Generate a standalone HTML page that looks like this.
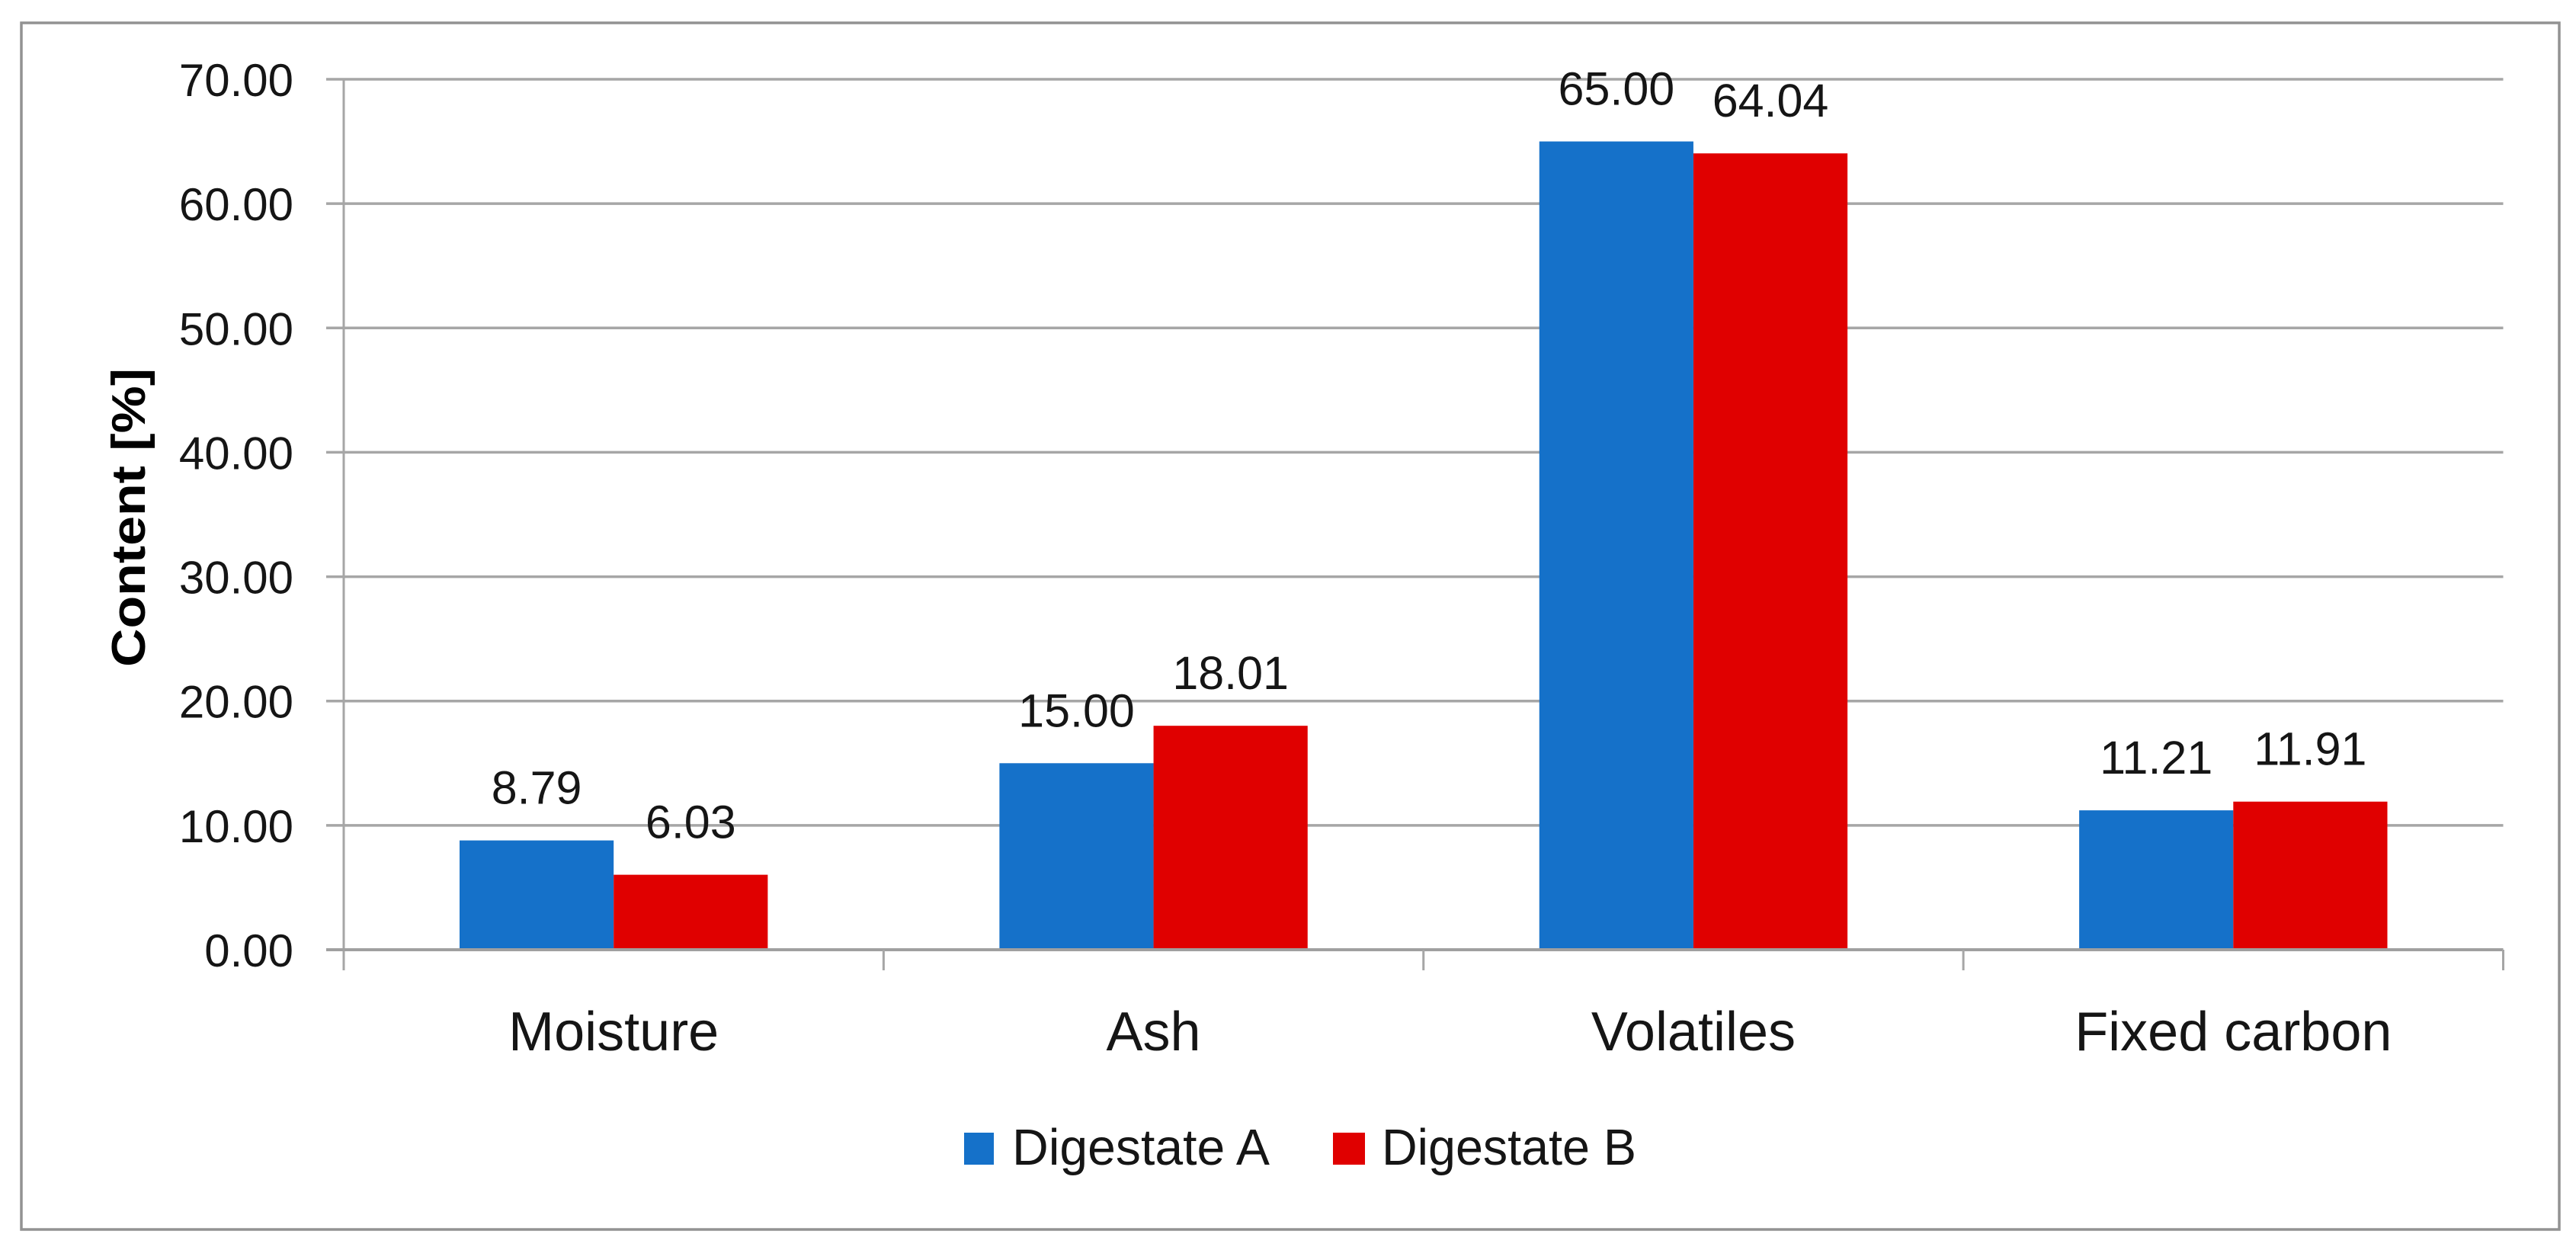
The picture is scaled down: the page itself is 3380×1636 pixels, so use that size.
<!DOCTYPE html>
<html lang="en">
<head>
<meta charset="utf-8">
<title>Digestate content chart</title>
<style>
html,body{margin:0;padding:0;background:#fff;width:3380px;height:1636px;overflow:hidden}
svg{display:block}
text{font-family:"Liberation Sans",sans-serif;fill:#151515}
</style>
</head>
<body>
<svg id="chart" xmlns="http://www.w3.org/2000/svg" width="3380" height="1636" viewBox="0 0 3380 1636">
  <rect x="28" y="30" width="3330" height="1583" fill="#ffffff" stroke="#929292" stroke-width="3.5"/>
  <g id="grid"></g>
  <g id="bars"></g>
  <g id="axes"></g>
  <g id="labels"></g>
  <text transform="translate(190,679) rotate(-90)" text-anchor="middle" font-size="62" font-weight="700" textLength="392" lengthAdjust="spacingAndGlyphs" style="fill:#000">Content [%]</text>
  <g>
    <rect x="1265" y="1486" width="39" height="42" fill="#1571c9"/>
    <text x="1328" y="1528" font-size="67" textLength="338" lengthAdjust="spacingAndGlyphs">Digestate A</text>
    <rect x="1749" y="1486" width="42" height="42" fill="#e00000"/>
    <text x="1813" y="1528" font-size="67" textLength="334" lengthAdjust="spacingAndGlyphs">Digestate B</text>
  </g>
</svg>
<script>
const categories = ["Moisture", "Ash", "Volatiles", "Fixed carbon"];
const digestateA = [8.79, 15.00, 65.00, 11.21];
const digestateB = [6.03, 18.01, 64.04, 11.91];
const yTicks = [0, 10, 20, 30, 40, 50, 60, 70];

const NS = "http://www.w3.org/2000/svg";
const plotLeft = 451, plotRight = 3284.5, plotBottom = 1246, plotTop = 104, yMax = 70;
const catW = (plotRight - plotLeft) / categories.length;
const gapW = 152;
const barW = (catW - 2 * gapW) / 2;
const yScale = function (v) { return plotBottom - (v / yMax) * (plotBottom - plotTop); };
const xCat = function (i) { return plotLeft + i * catW; };

function make(tag, parent, attrs, content) {
  const el = document.createElementNS(NS, tag);
  for (const k in attrs) el.setAttribute(k, attrs[k]);
  if (content !== undefined) el.textContent = content;
  parent.appendChild(el);
  return el;
}

const grid = document.getElementById("grid");
const bars = document.getElementById("bars");
const axes = document.getElementById("axes");
const labels = document.getElementById("labels");

yTicks.forEach(function (t) {
  const y = yScale(t);
  if (t !== 0) {
    const line = make("line", grid, { x1: 428, x2: plotRight, y1: y, y2: y, stroke: "#a6a6a6", "stroke-width": 3.5 });
    
    
  }
  const tick = make("text", axes, { x: 385, y: y + 22, "text-anchor": "end", "font-size": 60 }, t.toFixed(2));
  
  
});

categories.forEach(function (c, i) {
  const x0 = xCat(i) + gapW;
  const a = make("rect", bars, { x: x0, y: yScale(digestateA[i]), width: barW, height: plotBottom - yScale(digestateA[i]), fill: "#1571c9" });
  
  
  const b = make("rect", bars, { x: x0 + barW, y: yScale(digestateB[i]), width: barW, height: plotBottom - yScale(digestateB[i]), fill: "#e00000" });
  
  

  const la = make("text", labels, { x: x0 + barW / 2, y: yScale(digestateA[i]) - 48, "text-anchor": "middle", "font-size": 61 }, digestateA[i].toFixed(2));
  
  
  const lb = make("text", labels, { x: x0 + barW * 1.5, y: yScale(digestateB[i]) - 48, "text-anchor": "middle", "font-size": 61 }, digestateB[i].toFixed(2));
  
  

  const cat = make("text", axes, { x: xCat(i) + catW / 2, y: 1378, "text-anchor": "middle", "font-size": 72 }, c);
  
  
});

const yAxis = make("line", axes, { x1: plotLeft, x2: plotLeft, y1: plotTop, y2: 1273, stroke: "#a6a6a6", "stroke-width": 3 });


const xAxis = make("line", axes, { x1: 428, x2: plotRight, y1: plotBottom, y2: plotBottom, stroke: "#a0a0a0", "stroke-width": 4 });


for (let i = 1; i <= categories.length; i++) {
  const tk = make("line", axes, { x1: xCat(i), x2: xCat(i), y1: plotBottom, y2: 1273, stroke: "#a6a6a6", "stroke-width": 3 });
  
  
}
</script>
</body>
</html>
